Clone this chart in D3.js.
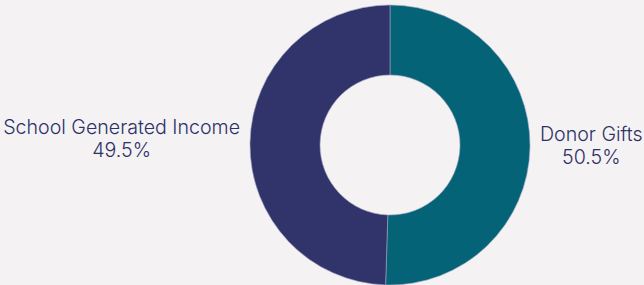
<!DOCTYPE html>
<html>
<head>
<meta charset="utf-8">
<script src="https://cdn.jsdelivr.net/npm/d3@7"></script>
<style>
  body { margin: 0; background: #f4f2f3; }
  svg { display: block; }
</style>
</head>
<body>
<div id="chart"></div>
<script>
var svgWidth = 644;
var svgHeight = 285;

// data
var categories = ["Donor Gifts", "School Generated Income"];
var shares = [50.5, 49.5];
var pctLabels = ["50.5%", "49.5%"];
var colors = ["#056378", "#31346b"];

var cx = 390, cy = 145;
var outerR = 140, innerR = 70;
var fontFamily = "Inter, 'Noto Sans', sans-serif";
var fontSize = 19.6;

var svg = d3.select("#chart")
  .append("svg")
  .attr("width", svgWidth)
  .attr("height", svgHeight);

svg.append("rect")
  .attr("width", svgWidth)
  .attr("height", svgHeight)
  .attr("fill", "#f4f2f3");

var chartGroup = svg.append("g")
  .attr("transform", "translate(" + cx + "," + cy + ")");

var data = categories.map(function(c, i) {
  return { name: c, value: shares[i], pct: pctLabels[i], color: colors[i] };
});

var pie = d3.pie()
  .sort(null)
  .value(function(d) { return d.value; });

var arc = d3.arc()
  .innerRadius(innerR)
  .outerRadius(outerR);

var arcs = pie(data);

chartGroup.selectAll("path.slice")
  .data(arcs)
  .enter()
  .append("path")
  .attr("class", "slice")
  .attr("d", arc)
  .attr("fill", function(d) { return d.data.color; })
  .attr("stroke", "#9fa3bf")
  .attr("stroke-width", 0.6);

// labels: placed just outside the ring, lines centred on each other
var labels = chartGroup.selectAll("g.label")
  .data(arcs)
  .enter()
  .append("g")
  .attr("class", "label");

labels.each(function(d) {
  var g = d3.select(this);
  var mid = (d.startAngle + d.endAngle) / 2;
  var right = Math.sin(mid) > 0;
  var yOff = -Math.cos(mid) * 200;
  var t1 = g.append("text")
    .attr("text-anchor", "middle")
    .attr("font-family", fontFamily)
    .attr("font-size", fontSize)
    .attr("font-weight", 300)
    .attr("fill", "#2e3068")
    .text(d.data.name);
  var w = t1.node().getComputedTextLength();
  var x = right ? outerR + 10 + w / 2 : -(outerR + 10 + w / 2);
  t1.attr("x", x).attr("y", yOff - 7.5);
  g.append("text")
    .attr("text-anchor", "middle")
    .attr("font-family", fontFamily)
    .attr("font-size", fontSize)
    .attr("font-weight", 300)
    .attr("fill", "#2e3068")
    .attr("x", x)
    .attr("y", yOff + 15.5)
    .text(d.data.pct);
});
</script>
</body>
</html>
